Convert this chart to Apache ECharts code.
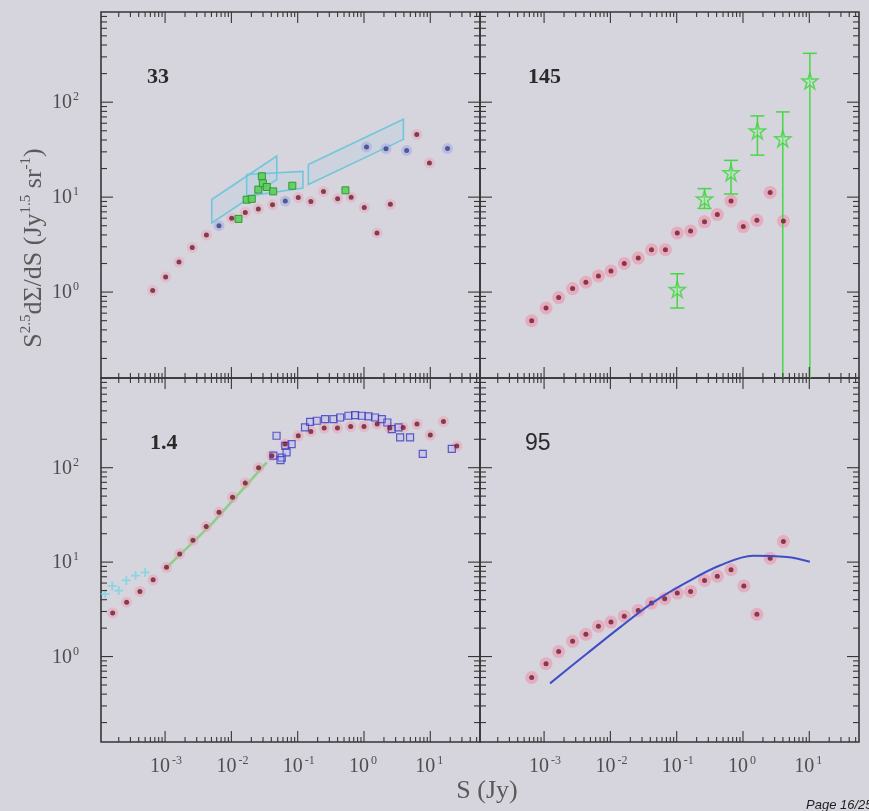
<!DOCTYPE html>
<html>
<head>
<meta charset="utf-8">
<title>Source counts S^2.5 dN/dS</title>
<script src="https://cdn.jsdelivr.net/npm/echarts@6/dist/echarts.min.js"></script>
<style>
  html, body { margin: 0; padding: 0; background: #d6d4dd; }
  #chart { width: 869px; height: 811px; }
</style>
</head>
<body>
<div id="chart"></div>
<script>
// ---- axis ranges (flux density S in Jy, Euclidean-normalised counts) ----
const X_MIN = 1.08e-4, X_MAX = 56.2;
const Y_MIN = 0.1245, Y_MAX = 891;

// decade tick exponents and the minor multipliers between decades
const xMajorExp = [-3, -2, -1, 0, 1];
const yMajorExp = [0, 1, 2];
const minorSteps = [2, 3, 4, 5, 6, 7, 8, 9];

// panel frequency labels (GHz)
const panelNames = ['33', '145', '1.4', '95'];

// ---- 33 GHz ----
const s33Red = [6.5e-4, 1.02e-3, 1.62e-3, 2.57e-3, 4.2e-3, 0.0101, 0.0162, 0.0255, 0.0417, 0.102, 0.158, 0.245, 0.40, 0.64, 1.01, 1.57, 2.5, 6.25, 9.7];
const n33Red = [1.04, 1.44, 2.07, 2.95, 4.0, 6.0, 6.9, 7.5, 8.3, 9.9, 9.0, 11.5, 9.6, 10.0, 7.8, 4.2, 8.4, 45.7, 22.9];
const s33Blue = [6.5e-3, 0.065, 1.09, 2.15, 4.4, 18.2];
const n33Blue = [5.0, 9.1, 33.8, 32.4, 31.0, 32.5];
const s33Green = [0.0128, 0.0170, 0.0203, 0.0255, 0.0288, 0.0298, 0.0342, 0.0427, 0.083, 0.525];
const n33Green = [5.9, 9.4, 9.6, 12.0, 16.6, 14.0, 12.8, 11.5, 13.2, 11.8];
// uncertainty boxes (outline vertices)
const box33A_S = [0.00506, 0.0484, 0.0484, 0.00506];
const box33A_N = [9.44, 27.1, 15.3, 5.35];
const box33B_S = [0.017, 0.12, 0.12, 0.017];
const box33B_N = [17.3, 18.7, 12.5, 10.2];
const box33C_S = [0.145, 3.93, 3.93, 0.145];
const box33C_N = [22.1, 66.1, 40.6, 13.6];

// ---- 145 GHz ----
const s145Red = [6.5e-4, 1.07e-3, 1.66e-3, 2.69e-3, 4.27e-3, 6.6e-3, 0.0102, 0.0162, 0.0263, 0.0417, 0.0676, 0.102, 0.162, 0.263, 0.41, 0.66, 1.01, 1.62, 2.57, 4.07];
const n145Red = [0.50, 0.68, 0.875, 1.09, 1.27, 1.48, 1.67, 2.0, 2.28, 2.79, 2.79, 4.2, 4.4, 5.5, 6.55, 9.1, 4.9, 5.7, 11.2, 5.6];
const s145Star = [0.102, 0.263, 0.66, 1.65, 3.98, 10.2];
const n145Star = [1.07, 9.6, 18.1, 50, 41.3, 168];
const n145Lo = [0.68, 7.6, 10.8, 27.7, 0.05, 0.05];
const n145Hi = [1.56, 12.3, 24.4, 71.7, 79, 327];

// ---- 1.4 GHz ----
const s14Red = [1.62e-4, 2.63e-4, 4.17e-4, 6.6e-4, 1.05e-3, 1.66e-3, 2.63e-3, 4.17e-3, 6.5e-3, 0.0104, 0.0162, 0.0257, 0.0407, 0.0646, 0.102, 0.158, 0.251, 0.398, 0.63, 1.0, 1.58, 2.45, 3.9, 6.3, 10.0, 15.8, 25.1];
const n14Red = [2.9, 3.77, 4.9, 6.5, 8.8, 12.2, 17, 23.8, 33.7, 48.6, 69, 100, 134, 178, 218, 242, 263, 263, 273, 273, 290, 263, 267, 290, 222, 309, 170];
const s14Blue = [0.048, 0.043, 0.0575, 0.065, 0.081, 0.068, 0.055, 0.129, 0.154, 0.194, 0.259, 0.347, 0.437, 0.582, 0.735, 0.927, 1.17, 1.47, 1.86, 2.25, 2.63, 3.31, 3.51, 4.95, 7.7, 21.1];
const n14Blue = [218, 134, 128, 170, 178, 145, 120, 267, 306, 314, 327, 327, 340, 355, 360, 355, 349, 340, 327, 301, 256, 267, 209, 209, 140, 158];
const s14Cyan = [1.25e-4, 1.6e-4, 2.0e-4, 2.6e-4, 3.6e-4, 5.0e-4];
const n14Cyan = [4.6, 5.6, 5.0, 6.4, 7.2, 7.8];
const s14Fit = [1.06e-3, 4.8e-3, 0.0342];
const n14Fit = [8.8, 24.4, 114];

// ---- 95 GHz ----
const s95Red = [6.5e-4, 1.07e-3, 1.66e-3, 2.69e-3, 4.27e-3, 6.6e-3, 0.0102, 0.0162, 0.0263, 0.0417, 0.066, 0.102, 0.162, 0.263, 0.41, 0.66, 1.03, 1.62, 2.57, 4.07];
const n95Red = [0.60, 0.84, 1.13, 1.45, 1.72, 2.09, 2.32, 2.68, 3.08, 3.68, 4.1, 4.7, 4.9, 6.4, 7.1, 8.3, 5.6, 2.8, 11.0, 16.5];
const s95Model = [1.23e-3, 4.4e-3, 0.0141, 0.0447, 0.141, 0.447, 1.43, 4.6, 10.2];
const n95Model = [0.52, 1.07, 2.05, 3.77, 6.1, 9.2, 11.7, 11.3, 10.1];

// ---------------------------------------------------------------
const FRAME = '#363636';
const LABEL = '#4e4e4e';
const SERIF = '"Liberation Serif", "DejaVu Serif", serif';

const zip = (s, n) => s.map((v, i) => [v, n[i]]);

function logTicks(lo, hi) {
  const out = [];
  for (let e = Math.floor(Math.log10(lo)); e <= Math.ceil(Math.log10(hi)); e++) {
    [1].concat(minorSteps).forEach(m => {
      const v = m * Math.pow(10, e);
      if (v >= lo && v <= hi) out.push([v, m === 1 ? 1 : 0, e]);
    });
  }
  return out;
}
const xTicks = logTicks(X_MIN, X_MAX).map(t => [t[0], Y_MIN, t[1] && xMajorExp.includes(t[2]) ? 1 : 0, t[2]]);
const yTicks = logTicks(Y_MIN, Y_MAX).map(t => [X_MIN, t[0], t[1] && yMajorExp.includes(t[2]) ? 1 : 0, t[2]]);

const grids = [
  { left: 101, top: 12, width: 379, height: 366 },
  { left: 480, top: 12, width: 379, height: 366 },
  { left: 101, top: 378, width: 379, height: 364 },
  { left: 480, top: 378, width: 379, height: 364 }
].map(g => Object.assign(g, { show: true, borderColor: FRAME, borderWidth: 1.6, backgroundColor: 'transparent' }));

const xAxes = grids.map((g, i) => ({ type: 'log', logBase: 10, gridIndex: i, min: X_MIN, max: X_MAX, show: false }));
const yAxes = grids.map((g, i) => ({ type: 'log', logBase: 10, gridIndex: i, min: Y_MIN, max: Y_MAX, show: false }));

function txt(x, y, text, size, align, vAlign) {
  return {
    type: 'text', x: x, y: y,
    style: { text: text, font: size + 'px ' + SERIF, fill: LABEL,
             align: align, textAlign: align, verticalAlign: vAlign, textVerticalAlign: vAlign }
  };
}

function xTickSeries(g, withLabels) {
  return {
    type: 'custom', xAxisIndex: g, yAxisIndex: g, silent: true, z: 10,
    data: xTicks, encode: { x: 0, y: 1 },
    renderItem: (params, api) => {
      const v = api.value(0), major = api.value(2), e = api.value(3);
      const b = api.coord([v, Y_MIN]), t = api.coord([v, Y_MAX]);
      const len = major ? 11 : 5;
      const st = { stroke: FRAME, lineWidth: 1.1 };
      const ch = [
        { type: 'line', shape: { x1: b[0], y1: b[1], x2: b[0], y2: b[1] - len }, style: st },
        { type: 'line', shape: { x1: t[0], y1: t[1], x2: t[0], y2: t[1] + len }, style: st }
      ];
      if (withLabels && major) {
        ch.push(txt(b[0] + 5, b[1] + 25, '10', 20, 'right', 'middle'));
        ch.push(txt(b[0] + 7, b[1] + 19, String(e), 12, 'left', 'middle'));
      }
      return { type: 'group', children: ch };
    }
  };
}

function yTickSeries(g, withLabels) {
  return {
    type: 'custom', xAxisIndex: g, yAxisIndex: g, silent: true, z: 10,
    data: yTicks, encode: { x: 0, y: 1 },
    renderItem: (params, api) => {
      const v = api.value(1), major = api.value(2), e = api.value(3);
      const l = api.coord([X_MIN, v]), r = api.coord([X_MAX, v]);
      const len = major ? 12 : 6;
      const st = { stroke: FRAME, lineWidth: 1.1 };
      const ch = [
        { type: 'line', shape: { x1: l[0], y1: l[1], x2: l[0] + len, y2: l[1] }, style: st },
        { type: 'line', shape: { x1: r[0], y1: r[1], x2: r[0] - len, y2: r[1] }, style: st }
      ];
      if (withLabels && major) {
        ch.push(txt(l[0] - 29, l[1] + 1, '10', 20, 'right', 'middle'));
        ch.push(txt(l[0] - 28, l[1] - 5, String(e), 12, 'left', 'middle'));
      }
      return { type: 'group', children: ch };
    }
  };
}

// a measured point: soft coloured halo under a small dark core
function dots(g, s, n, core, halo, haloSize) {
  const data = zip(s, n);
  return [
    { type: 'scatter', xAxisIndex: g, yAxisIndex: g, silent: true, z: 4, data: data,
      symbol: 'circle', symbolSize: haloSize || 12, itemStyle: { color: halo } },
    { type: 'scatter', xAxisIndex: g, yAxisIndex: g, silent: true, z: 6, data: data,
      symbol: 'circle', symbolSize: 5, itemStyle: { color: core } }
  ];
}

const boxes33 = [[box33A_S, box33A_N], [box33B_S, box33B_N], [box33C_S, box33C_N]];
const STAR = 'path://M50,0 L61,35 L98,35 L68,57 L79,91 L50,70 L21,91 L32,57 L2,35 L39,35 Z';
const PLUS = 'path://M40,0 L60,0 L60,40 L100,40 L100,60 L60,60 L60,100 L40,100 L40,60 L0,60 L0,40 L40,40 Z';

const series = [].concat(
  // 33 GHz
  [{
    type: 'custom', xAxisIndex: 0, yAxisIndex: 0, silent: true, z: 3,
    data: boxes33.map((b, i) => [b[0][0], b[1][0], i]), encode: { x: 0, y: 1 },
    renderItem: (params, api) => {
      const b = boxes33[api.value(2)];
      const pts = b[0].map((s, k) => api.coord([s, b[1][k]]));
      return { type: 'polygon', shape: { points: pts },
               style: { fill: 'rgba(150,205,235,0.14)', stroke: '#72c6da', lineWidth: 1.6 } };
    }
  }],
  dots(0, s33Red, n33Red, '#6d1b30', 'rgba(236,160,180,0.55)', 11),
  dots(0, s33Blue, n33Blue, '#3a3c7c', 'rgba(150,160,235,0.55)', 11),
  [{
    type: 'scatter', xAxisIndex: 0, yAxisIndex: 0, silent: true, z: 7,
    data: zip(s33Green, n33Green), symbol: 'rect', symbolSize: 7,
    itemStyle: { color: '#58d058', borderColor: '#2f8f2f', borderWidth: 1, opacity: 0.9 }
  }],
  // 145 GHz
  dots(1, s145Red, n145Red, '#6d1b30', 'rgba(240,140,165,0.7)', 13),
  [{
    type: 'custom', xAxisIndex: 1, yAxisIndex: 1, silent: true, z: 6,
    data: s145Star.map((s, i) => [s, n145Lo[i], n145Hi[i]]), encode: { x: 0, y: [1, 2] },
    renderItem: (params, api) => {
      const x = api.value(0), lo = api.value(1), hi = api.value(2);
      const open = lo < Y_MIN;
      const a = api.coord([x, open ? Y_MIN : lo]), b = api.coord([x, hi]);
      const cap = 7;
      const st = { stroke: '#45d845', lineWidth: 1.5 };
      const ch = [
        { type: 'line', shape: { x1: a[0], y1: a[1], x2: b[0], y2: b[1] }, style: st },
        { type: 'line', shape: { x1: b[0] - cap, y1: b[1], x2: b[0] + cap, y2: b[1] }, style: st }
      ];
      if (!open) ch.push({ type: 'line', shape: { x1: a[0] - cap, y1: a[1], x2: a[0] + cap, y2: a[1] }, style: st });
      return { type: 'group', children: ch };
    }
  },
  {
    type: 'scatter', xAxisIndex: 1, yAxisIndex: 1, silent: true, z: 7,
    data: zip(s145Star, n145Star), symbol: STAR, symbolSize: 16,
    itemStyle: { color: 'rgba(170,240,170,0.45)', borderColor: '#3fd43f', borderWidth: 1.5 }
  },
  // 1.4 GHz
  {
    type: 'line', xAxisIndex: 2, yAxisIndex: 2, silent: true, z: 3, data: zip(s14Fit, n14Fit),
    showSymbol: false, lineStyle: { color: 'rgba(110,205,100,0.7)', width: 2.5 }
  },
  {
    type: 'scatter', xAxisIndex: 2, yAxisIndex: 2, silent: true, z: 4,
    data: zip(s14Cyan, n14Cyan), symbol: PLUS, symbolSize: 9,
    itemStyle: { color: 'rgba(105,215,230,0.85)' }
  },
  {
    type: 'scatter', xAxisIndex: 2, yAxisIndex: 2, silent: true, z: 5,
    data: zip(s14Blue, n14Blue), symbol: 'rect', symbolSize: 7,
    itemStyle: { color: 'rgba(175,175,240,0.35)', borderColor: '#3a3ac4', borderWidth: 1.2 }
  }],
  dots(2, s14Red, n14Red, '#6d1b30', 'rgba(240,150,170,0.55)', 11),
  // 95 GHz
  dots(3, s95Red, n95Red, '#6d1b30', 'rgba(240,140,165,0.65)', 13),
  [{
    type: 'line', xAxisIndex: 3, yAxisIndex: 3, silent: true, z: 7, data: zip(s95Model, n95Model),
    smooth: 0.35, showSymbol: false, lineStyle: { color: '#3e4ec6', width: 2 }
  }],
  // axis ticks and labels
  [xTickSeries(0, false), xTickSeries(1, false), xTickSeries(2, true), xTickSeries(3, true),
   yTickSeries(0, true), yTickSeries(1, false), yTickSeries(2, true), yTickSeries(3, false)]
);

const panelPos = [[147, 66, true], [528, 66, true], [150, 432, true], [525, 432, false]];

const graphic = panelNames.map((name, i) => ({
  type: 'text', left: panelPos[i][0], top: panelPos[i][1], z: 20,
  style: {
    text: name, fill: '#2a2a2a',
    font: panelPos[i][2] ? 'bold 22px ' + SERIF : '23px "Liberation Sans", Arial, sans-serif'
  }
})).concat([
  {
    type: 'text', x: 33, y: 248, rotation: Math.PI / 2, z: 20,
    style: {
      text: '{b|S}{s|2.5}{b|dΣ/dS (Jy}{s|1.5}{b| sr}{s|-1}{b|)}',
      align: 'center', verticalAlign: 'middle',
      rich: {
        b: { fontSize: 26, fontFamily: SERIF, fill: '#5a5a5a', lineHeight: 28, verticalAlign: 'bottom' },
        s: { fontSize: 15, fontFamily: SERIF, fill: '#5a5a5a', lineHeight: 15, verticalAlign: 'top' }
      }
    }
  },
  {
    type: 'text', x: 487, y: 791, z: 20,
    style: { text: 'S (Jy)', font: '26px ' + SERIF, fill: '#5a5a5a', align: 'center', verticalAlign: 'middle' }
  },
  {
    type: 'text', x: 806, y: 799, z: 20,
    style: { text: 'Page 16/25', font: 'italic 13px "Liberation Sans", Arial, sans-serif', fill: '#1e1e1e' }
  }
]);

const chart = echarts.init(document.getElementById('chart'), null, { renderer: 'canvas' });
chart.setOption({
  backgroundColor: '#d6d4dd',
  animation: false,
  grid: grids,
  xAxis: xAxes,
  yAxis: yAxes,
  series: series,
  graphic: graphic
});
</script>
</body>
</html>
